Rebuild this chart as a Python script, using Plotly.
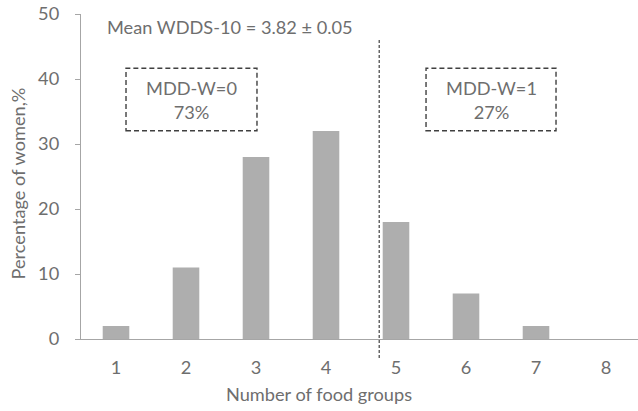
import plotly.graph_objects as go

# Data
food_groups = [1, 2, 3, 4, 5, 6, 7, 8]
pct_women = [2, 11, 28, 32, 18, 7, 2, 0]
y_ticks = [0, 10, 20, 30, 40, 50]

FONT = "Lato"
TXT = "#6e6e6e"
AX = "#a6a6a6"
FS = 18.2

W, H = 638, 411
L, R, T, B = 81, 0, 14, 72
ph = H - T - B

def py2paper(py):
    return (H - B - py) / ph

fig = go.Figure(go.Bar(
    x=food_groups, y=pct_women, width=0.38,
    marker=dict(color="#aeaeae", line=dict(width=0)),
))

xr = [0.5, 0.5 + (W - L - R) / 70.0]

fig.update_layout(
    width=W, height=H,
    margin=dict(l=L, r=R, t=T, b=B, autoexpand=False),
    plot_bgcolor="white", paper_bgcolor="white",
    showlegend=False,
    font=dict(family=FONT, size=FS, color=TXT),
    xaxis=dict(range=xr, tickvals=food_groups, ticktext=[str(v) for v in food_groups],
               showline=True, linecolor=AX, linewidth=1.3, ticks="",
               showgrid=False, zeroline=False, ticklabelstandoff=12, automargin=False,
               tickfont=dict(size=FS, color=TXT)),
    yaxis=dict(range=[0, 50], tickvals=y_ticks, showline=True, linecolor=AX, linewidth=1.3,
               ticks="outside", ticklen=5, tickcolor=AX, tickwidth=1.3,
               showgrid=False, zeroline=False, ticklabelstandoff=12, automargin=False,
               tickfont=dict(size=FS, color=TXT)),
)

# divider line
fig.add_shape(type="line", xref="x", yref="paper", x0=4.76, x1=4.76,
              y0=py2paper(358), y1=py2paper(40),
              line=dict(color="#404040", width=1.2, dash="3px,2px"))

# dashed boxes
for x0, x1, label in [(1.143, 3.014, "MDD-W=0<br>73%"), (5.429, 7.286, "MDD-W=1<br>27%")]:
    fig.add_shape(type="rect", xref="x", yref="paper", x0=x0, x1=x1,
                  y0=py2paper(130.7), y1=py2paper(68.3),
                  line=dict(color="#404040", width=1.4, dash="5px,3px"))
    fig.add_annotation(xref="x", yref="paper", x=(x0 + x1) / 2, y=py2paper(100),
                       text=label, showarrow=False, xanchor="center", yanchor="middle",
                       font=dict(size=FS, color=TXT), align="center")

fig.add_annotation(xref="paper", yref="paper", x=(105 - L) / (W - L - R), y=py2paper(27),
                   text="Mean WDDS-10 = 3.82 ± 0.05", showarrow=False,
                   xanchor="left", yanchor="middle", font=dict(size=FS, color=TXT))

fig.add_annotation(xref="paper", yref="paper", x=(319 - L) / (W - L - R), y=py2paper(394),
                   text="Number of food groups", showarrow=False,
                   xanchor="center", yanchor="middle", font=dict(size=FS, color=TXT))

fig.add_annotation(xref="paper", yref="paper", x=(17 - L) / (W - L - R), y=py2paper(183.5),
                   text="Percentage of women,%", showarrow=False, textangle=-90,
                   xanchor="center", yanchor="middle", font=dict(size=FS, color=TXT))

fig.write_html("out.html", config={"displayModeBar": False},
               post_script="document.body.style.margin='0px';")
